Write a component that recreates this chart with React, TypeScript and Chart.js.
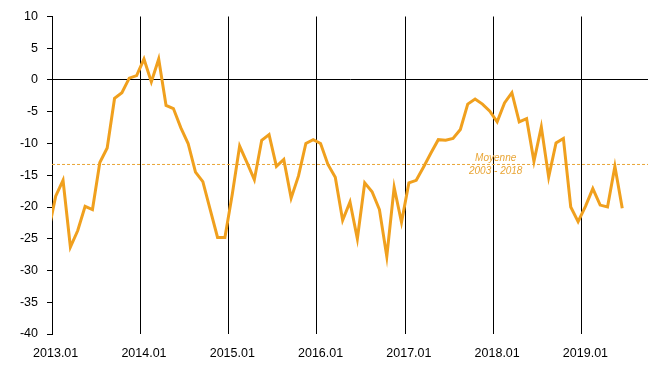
import React, { useEffect, useRef } from "react";
import { Chart, registerables } from "chart.js";

Chart.register(...registerables);

// Monthly values, 2013.01 .. 2019.06
const seriesValues: number[] = [
  -18.3, -15.8, -26.3, -23.7, -19.9, -20.4, -13.0, -10.7, -2.9, -2.0, 0.3, 0.7,
  3.3, -0.3, 3.3, -4.0, -4.5, -7.5, -10.0, -14.5, -16.0, -20.4, -24.8, -24.8,
  -18.0, -10.4, -13.0, -15.7, -9.5, -8.6, -13.6, -12.5, -18.6, -15.1, -10.0, -9.4,
  -10.0, -13.3, -15.3, -22.1, -19.2, -25.0, -16.2, -17.6, -20.4, -27.8, -16.9, -22.4,
  -16.2, -15.8, -13.7, -11.5, -9.4, -9.5, -9.2, -7.8, -3.8, -3.0, -3.8, -4.9,
  -6.6, -3.6, -2.0, -6.6, -6.1, -12.8, -7.4, -15.3, -9.9, -9.2, -20.0, -22.3,
  -19.9, -17.1, -19.7, -20.0, -13.6, -20.2,
];
// value of 2012.12 (only its segment toward 2013.01 is visible, clipped at the axis)
const previousValue = -24.0;

const yearLabels: string[] = [
  "2013.01", "2014.01", "2015.01", "2016.01", "2017.01", "2018.01", "2019.01",
];
const totalMonths = 81; // axis spans 2013.01 .. 2019.09

const meanValue = -13.3;
const meanLabel: string[] = ["Moyenne", "2003 - 2018"];
const meanLabelPosition = 59.8; // month index where the label is centred

const FONT = "'Liberation Sans', Arial, sans-serif";
const LINE_COLOR = "#f0a01e";
const MEAN_COLOR = "#e9a535";

export default function App() {
  const canvasRef = useRef<HTMLCanvasElement | null>(null);

  useEffect(() => {
    document.body.style.margin = "0";
    const canvas = canvasRef.current;
    if (!canvas) return;

    const lineData = [
      { x: -1, y: previousValue },
      ...seriesValues.map((v, i) => ({ x: i, y: v })),
    ];
    const meanData = [
      { x: -0.5, y: meanValue },
      { x: totalMonths - 0.5, y: meanValue },
    ];

    const meanLabelPlugin = {
      id: "meanLabel",
      afterDatasetsDraw(chart: any) {
        const { ctx, scales } = chart;
        const x = scales.x.getPixelForValue(meanLabelPosition);
        const y = scales.y.getPixelForValue(meanValue);
        ctx.save();
        ctx.font = `italic 10px ${FONT}`;
        ctx.fillStyle = MEAN_COLOR;
        ctx.textAlign = "center";
        ctx.textBaseline = "alphabetic";
        ctx.fillText(meanLabel[0], x, y - 3.3);
        ctx.fillText(meanLabel[1], x, y + 9.4);
        ctx.restore();
      },
    };

    const chart = new Chart(canvas, {
      type: "line",
      data: {
        datasets: [
          {
            data: lineData,
            borderColor: LINE_COLOR,
            borderWidth: 3,
            pointRadius: 0,
            tension: 0,
            fill: false,
            clip: 0,
          },
          {
            data: meanData,
            borderColor: MEAN_COLOR,
            borderWidth: 1,
            borderDash: [3, 2],
            pointRadius: 0,
            fill: false,
          },
        ],
      },
      options: {
        animation: false,
        responsive: true,
        maintainAspectRatio: false,
        layout: { padding: { top: 16, right: 13, left: 0, bottom: 0 } },
        plugins: {
          legend: { display: false },
          tooltip: { enabled: false },
        },
        scales: {
          x: {
            type: "linear",
            min: -0.5,
            max: totalMonths - 0.5,
            afterBuildTicks: (scale: any) => {
              scale.ticks = yearLabels.map((_, k) => ({ value: -0.5 + 12 * k }));
            },
            afterFit: (scale: any) => {
              scale.height = 45;
            },
            grid: {
              color: "#000",
              lineWidth: 1,
              drawTicks: false,
            },
            border: { display: false },
            ticks: {
              autoSkip: false,
              maxRotation: 0,
              padding: 12.5,
              labelOffset: 3.68,
              color: "#000",
              font: { family: FONT, size: 12.5 },
              callback: (value: any) => {
                const k = Math.round((Number(value) + 0.5) / 12);
                return yearLabels[k] ?? "";
              },
            },
          },
          y: {
            min: -40,
            max: 10,
            afterFit: (scale: any) => {
              scale.width = 52;
            },
            grid: {
              color: (c: any) => (c.tick && c.tick.value === 0 ? "#000" : "rgba(0,0,0,0)"),
              tickColor: "#000",
              tickLength: 5,
              lineWidth: 1,
            },
            border: { display: true, color: "#000", width: 1 },
            ticks: {
              stepSize: 5,
              padding: 9,
              color: "#000",
              font: { family: FONT, size: 12.5 },
            },
          },
        },
      },
      plugins: [meanLabelPlugin],
    });

    return () => chart.destroy();
  }, []);

  return (
    <div style={{ width: 661, height: 379, position: "relative" }}>
      <canvas ref={canvasRef} />
    </div>
  );
}
